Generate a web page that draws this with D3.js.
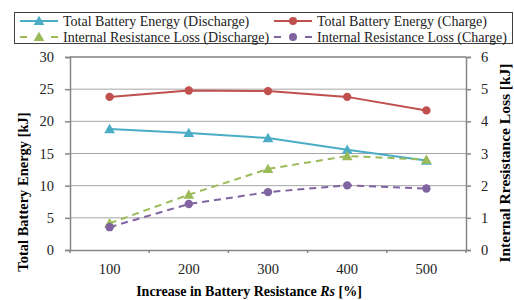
<!DOCTYPE html>
<html>
<head>
<meta charset="utf-8">
<script src="https://cdn.jsdelivr.net/npm/d3@7"></script>
<style>
  body { margin: 0; background: #fff; }
  svg { display: block; }
</style>
</head>
<body>
<div id="chart"></div>
<script>
// data
const resistance = ['100', '200', '300', '400', '500'];
const energyDischarge = [18.8, 18.2, 17.4, 15.6, 13.9];
const energyCharge = [23.8, 24.8, 24.7, 23.8, 21.7];
const lossDischarge = [0.83, 1.72, 2.52, 2.92, 2.81];
const lossCharge = [0.71, 1.43, 1.80, 2.01, 1.91];
const leftTicks = [0, 5, 10, 15, 20, 25, 30];
const rightTicks = [0, 1, 2, 3, 4, 5, 6];

const W = 514, H = 300;
const margin = { top: 57, right: 48, bottom: 50, left: 70 };
const width = W - margin.left - margin.right;
const height = H - margin.top - margin.bottom;
const font = '"Liberation Serif", serif';

const svg = d3.select('#chart').append('svg')
  .attr('width', W).attr('height', H);

const g = svg.append('g')
  .attr('transform', `translate(${margin.left},${margin.top})`);

const x = d3.scaleBand().domain(resistance).range([0, width]);
const yL = d3.scaleLinear().domain([0, 30]).range([height, 0]);
const yR = d3.scaleLinear().domain([0, 6]).range([height, 0]);

// gridlines
g.append('g')
  .selectAll('line')
  .data(leftTicks.filter(d => d > 0))
  .enter().append('line')
  .attr('x1', 0).attr('x2', width)
  .attr('y1', d => yL(d)).attr('y2', d => yL(d))
  .style('stroke', d => d === 30 ? '#3f3f3f' : '#a6a6a6')
  .style('stroke-width', 1);

const axisColor = '#868686';

const left = g.append('g')
  .call(d3.axisLeft(yL).tickValues(leftTicks).tickSize(5).tickPadding(11));
const right = g.append('g')
  .attr('transform', `translate(${width},0)`)
  .call(d3.axisRight(yR).tickValues(rightTicks).tickFormat(d3.format('d')).tickSize(5).tickPadding(10));
const bottom = g.append('g')
  .attr('transform', `translate(0,${height})`)
  .call(d3.axisBottom(x).tickSize(0).tickPadding(14));

// bottom ticks at band edges
bottom.selectAll('.edge')
  .data(d3.range(resistance.length + 1))
  .enter().append('line')
  .attr('class', 'edge')
  .attr('x1', i => i * x.step()).attr('x2', i => i * x.step())
  .attr('y1', 0).attr('y2', 3)
  .style('stroke', axisColor).style('stroke-width', 1.5);

[left, right, bottom].forEach(a => {
  a.attr('font-family', font);
  a.selectAll('.domain, .tick line').style('stroke', axisColor).style('stroke-width', 1.5);
  a.selectAll('.tick text')
    .style('font-family', font)
    .style('font-size', '14.5px')
    .style('fill', '#222');
});

// lines
const cx = d => x(d) + x.bandwidth() / 2;
const series = [
  { values: energyDischarge, scale: yL, color: '#4bacc6', dash: null, marker: 'tri' },
  { values: energyCharge, scale: yL, color: '#c0504d', dash: null, marker: 'circ' },
  { values: lossDischarge, scale: yR, color: '#9bbb59', dash: '7,5', marker: 'tri' },
  { values: lossCharge, scale: yR, color: '#8064a2', dash: '7,5', marker: 'circ' }
];

const triangle = d3.symbol().type(d3.symbolTriangle).size(50);

series.forEach(s => {
  const pts = resistance.map((r, i) => [cx(r), s.scale(s.values[i])]);
  g.append('path')
    .datum(pts)
    .attr('d', d3.line())
    .style('fill', 'none')
    .style('stroke', s.color)
    .style('stroke-width', 2)
    .style('stroke-dasharray', s.dash);
  pts.forEach(p => {
    if (s.marker === 'tri') {
      g.append('path').attr('d', triangle)
        .attr('transform', `translate(${p[0]},${p[1] + 1})`)
        .style('fill', s.color);
    } else {
      g.append('circle').attr('cx', p[0]).attr('cy', p[1]).attr('r', 4.2)
        .style('fill', s.color);
    }
  });
});

// axis titles
svg.append('text')
  .attr('transform', 'translate(28,192) rotate(-90)')
  .attr('text-anchor', 'middle')
  .style('font-family', font)
  .style('font-size', '14.5px').style('font-weight', 'bold')
  .text('Total Battery Energy [kJ]');

svg.append('text')
  .attr('transform', 'translate(510,163) rotate(-90)')
  .attr('text-anchor', 'middle')
  .style('font-family', font)
  .style('font-size', '15.5px').style('font-weight', 'bold')
  .text('Internal Rresistance Loss [kJ]');

const xt = svg.append('text')
  .attr('x', 249).attr('y', 296)
  .attr('text-anchor', 'middle')
  .style('font-family', font)
  .style('font-size', '14px').style('font-weight', 'bold');
xt.append('tspan').text('Increase in Battery Resistance ');
xt.append('tspan').style('font-style', 'italic').text('Rs');
xt.append('tspan').text(' [%]');

// legend
const legendNames = [
  'Total Battery Energy (Discharge)',
  'Total Battery Energy (Charge)',
  'Internal Resistance Loss (Discharge)',
  'Internal Resistance Loss (Charge)'
];
svg.append('rect')
  .attr('x', 14.5).attr('y', 12.5).attr('width', 498).attr('height', 31)
  .style('fill', '#fff').style('stroke', '#404040');

const legendPos = [[20, 21], [274, 21], [20, 37], [274, 37]];
series.forEach((s, i) => {
  const [lx, ly] = legendPos[i];
  const lg = svg.append('g').attr('transform', `translate(${lx},${ly})`);
  lg.append('line').attr('x1', 0).attr('x2', 38).attr('y1', 0).attr('y2', 0)
    .style('stroke', s.color).style('stroke-width', 2)
    .style('stroke-dasharray', s.dash ? '7,24,7' : null);
  if (s.marker === 'tri') {
    lg.append('path').attr('d', triangle).attr('transform', 'translate(19,1)').style('fill', s.color);
  } else {
    lg.append('circle').attr('cx', 19).attr('cy', 0).attr('r', 4).style('fill', s.color);
  }
  lg.append('text').attr('x', 43).attr('y', 4.5)
    .style('font-family', font)
    .style('font-size', '14px').style('fill', '#222')
    .text(legendNames[i]);
});
</script>
</body>
</html>
